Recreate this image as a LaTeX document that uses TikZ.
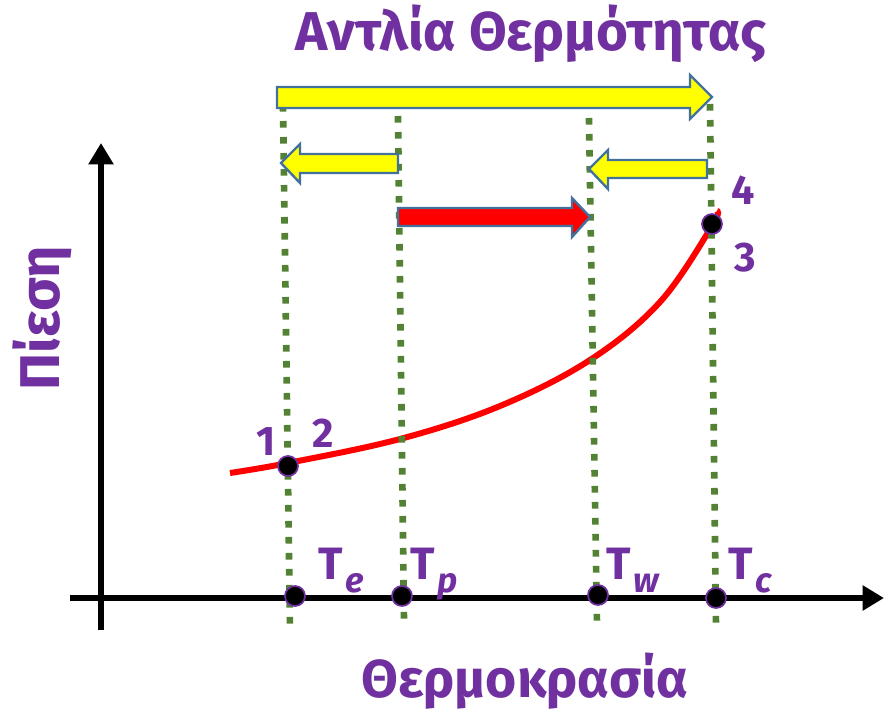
\documentclass[tikz,border=0pt]{standalone}
\usepackage{fontspec}
\setmainfont{Fira Sans}
\usetikzlibrary{arrows.meta}
\definecolor{lbl}{HTML}{7030A0}
\definecolor{grn}{HTML}{548235}
\definecolor{edge}{HTML}{41719C}
\definecolor{yel}{HTML}{FFFF00}
\definecolor{rd}{HTML}{FF0000}
\newcommand{\tsub}[1]{T\kern2pt\raisebox{-10pt}{\fontsize{26}{26}\selectfont\itshape #1}}
\tikzset{
  axis/.style={line width=4.5pt, -{Triangle[length=16pt,width=18pt]}},
  guide/.style={grn, line width=5pt, dash pattern=on 5pt off 7pt},
  yarrow/.style={fill=yel, draw=edge, line width=1.8pt, line join=miter},
  rarrow/.style={fill=rd, draw=edge, line width=1.8pt, line join=miter},
  pt/.style={circle, fill=black, draw=lbl, line width=1.3pt, minimum size=15pt, inner sep=0pt},
  lab/.style={text=lbl, font=\bfseries\fontsize{31}{31}\selectfont},
  tlab/.style={text=lbl, font=\bfseries\fontsize{34}{34}\selectfont, inner sep=0pt, anchor=base west},
  curve/.style={rd, line width=4.5pt}
}
\begin{document}
\begin{tikzpicture}[x=0.75pt,y=-0.75pt]
\useasboundingbox (0,0) rectangle (893,711);
% title and axis labels
\node[text=lbl, font=\bfseries\fontsize{41}{41}\selectfont] (title) at (531,34) {Αντλία Θερμότητας};
\node[text=lbl, font=\bfseries\fontsize{42}{42}\selectfont, rotate=90] (ylab) at (42,318) {Πίεση};
\node[text=lbl, font=\bfseries\fontsize{40}{40}\selectfont] (xlab) at (525,681) {Θερμοκρασία};
% guides
\coordinate (g1t) at (283,105); \coordinate (g1b) at (290,630);
\coordinate (g2t) at (398,116); \coordinate (g2b) at (404,622);
\coordinate (g3t) at (589,118); \coordinate (g3b) at (597,625);
\coordinate (g4t) at (710,104); \coordinate (g4b) at (716,628);
% axes
\coordinate (yb) at (101,630); \coordinate (yt) at (101,143);
\coordinate (xl) at (70,598); \coordinate (xr) at (884,598);
\draw[axis] (yb) -- (yt);
\draw[axis] (xl) -- (xr);
% curve
\draw[curve] plot[smooth, tension=0.6] coordinates {(230,473) (288,463) (400,439) (500,406) (590,360) (660,302) (712,226) (717,211)};
% guides on top
\draw[guide] (g1t) -- (g1b);
\draw[guide] (g2t) -- (g2b);
\draw[guide] (g3t) -- (g3b);
\draw[guide] (g4t) -- (g4b);
% arrows
\draw[yarrow] (277,87) -- (690,87) -- (690,75) -- (712,97) -- (690,119) -- (690,108) -- (277,108) -- cycle;
\draw[yarrow] (398,154) -- (300,154) -- (300,144) -- (281,163) -- (300,183) -- (300,173) -- (398,173) -- cycle;
\draw[yarrow] (707,160) -- (608,160) -- (608,150) -- (589,169) -- (608,189) -- (608,178) -- (707,178) -- cycle;
\draw[rarrow] (398,208) -- (572,208) -- (572,198) -- (590,217) -- (572,237) -- (572,226) -- (398,226) -- cycle;
% points
\node[pt] (p12) at (288,466) {};
\node[pt] (p34) at (712,224) {};
\node[pt] (te) at (295,596) {};
\node[pt] (tp) at (402,596) {};
\node[pt] (tw) at (598,595) {};
\node[pt] (tc) at (716,598) {};
% point labels
\node[lab] (n1) at (266,442) {1};
\node[lab] (n2) at (323,433) {2};
\node[lab] (n3) at (745,258) {3};
\node[lab] (n4) at (743,190) {4};
\node[tlab] (lte) at (318,579) {\tsub{e}};
\node[tlab] (ltp) at (410,579) {\tsub{p}};
\node[tlab] (ltw) at (606,579) {\tsub{w}};
\node[tlab] (ltc) at (728,579) {\tsub{c}};
\end{tikzpicture}
\end{document}
